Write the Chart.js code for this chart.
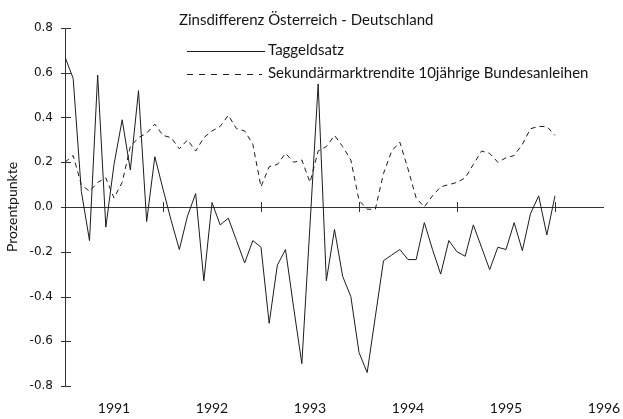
<!DOCTYPE html>
<html>
<head>
<meta charset="utf-8">
<script src="https://cdn.jsdelivr.net/npm/chart.js@4.4.1/dist/chart.umd.min.js"></script>
<style>
    html, body { margin: 0; padding: 0; background: #fff; }
    #wrap { width: 623px; height: 419px; }
</style>
</head>
<body>
<div id="wrap"><canvas id="zinsChart" width="623" height="419"></canvas></div>
<script>
/* ================= DATA ================= */
const months = [
    '1990-07', '1990-08', '1990-09', '1990-10', '1990-11', '1990-12',
    '1991-01', '1991-02', '1991-03', '1991-04', '1991-05', '1991-06',
    '1991-07', '1991-08', '1991-09', '1991-10', '1991-11', '1991-12',
    '1992-01', '1992-02', '1992-03', '1992-04', '1992-05', '1992-06',
    '1992-07', '1992-08', '1992-09', '1992-10', '1992-11', '1992-12',
    '1993-01', '1993-02', '1993-03', '1993-04', '1993-05', '1993-06',
    '1993-07', '1993-08', '1993-09', '1993-10', '1993-11', '1993-12',
    '1994-01', '1994-02', '1994-03', '1994-04', '1994-05', '1994-06',
    '1994-07', '1994-08', '1994-09', '1994-10', '1994-11', '1994-12',
    '1995-01', '1995-02', '1995-03', '1995-04', '1995-05', '1995-06',
    '1995-07'
];

const taggeldsatz = [
    0.67, 0.575, 0.07, -0.15, 0.59, -0.09, 0.19, 0.39, 0.165, 0.52,
    -0.065, 0.225, 0.08, -0.06, -0.19, -0.04, 0.06, -0.33, 0.02, -0.08,
    -0.05, -0.15, -0.25, -0.15, -0.18, -0.52, -0.26, -0.19, -0.45, -0.70,
    -0.08, 0.55, -0.33, -0.10, -0.31, -0.40, -0.65, -0.74, -0.49, -0.24,
    -0.215, -0.19, -0.235, -0.235, -0.07, -0.19, -0.30, -0.15, -0.20, -0.22,
    -0.08, -0.18, -0.28, -0.18, -0.19, -0.07, -0.195, -0.03, 0.05, -0.125,
    0.05
];

const sekundaerRendite = [
    0.20, 0.23, 0.10, 0.07, 0.11, 0.13, 0.04, 0.11, 0.27, 0.31,
    0.33, 0.37, 0.32, 0.31, 0.26, 0.30, 0.25, 0.31, 0.34, 0.36,
    0.41, 0.35, 0.34, 0.28, 0.09, 0.18, 0.19, 0.24, 0.20, 0.21,
    0.11, 0.25, 0.27, 0.32, 0.27, 0.21, 0.03, -0.01, -0.01, 0.15,
    0.25, 0.29, 0.17, 0.04, 0.00, 0.05, 0.09, 0.10, 0.11, 0.13,
    0.19, 0.25, 0.24, 0.20, 0.22, 0.23, 0.28, 0.35, 0.36, 0.36,
    0.32
];

const seriesNames = ['Taggeldsatz', 'Sekundärmarktrendite 10jährige Bundesanleihen'];
const chartTitle = 'Zinsdifferenz Österreich - Deutschland';
const yearLabels = [1991, 1992, 1993, 1994, 1995, 1996];
const midYearTicks = [1991.5, 1992.5, 1993.5, 1994.5, 1995.5];
const yTicks = [0.8, 0.6, 0.4, 0.2, 0.0, -0.2, -0.4, -0.6, -0.8];

// month string -> decimal year
function toYear(m) {
    const [y, mo] = m.split('-').map(Number);
    return y + (mo - 1) / 12;
}

const lineColor = '#1c1c1c';
const textColor = '#141414';

/* ================= PLUGINS ================= */
// small cross ticks on the y axis and mid-year marks on the zero line
const axisMarks = {
    id: 'axisMarks',
    afterDatasetsDraw(chart) {
        const ctx = chart.ctx;
        const xs = chart.scales.x;
        const ys = chart.scales.y;
        const left = chart.chartArea.left;
        ctx.save();
        ctx.strokeStyle = '#333';
        ctx.lineWidth = 1;
        yTicks.forEach(v => {
            const y = Math.round(ys.getPixelForValue(v)) + 0.5;
            ctx.beginPath();
            ctx.moveTo(left - 4, y);
            ctx.lineTo(left + 6, y);
            ctx.stroke();
        });
        const y0 = ys.getPixelForValue(0);
        midYearTicks.forEach(v => {
            const x = Math.round(xs.getPixelForValue(v)) + 0.5;
            ctx.beginPath();
            ctx.moveTo(x, y0 - 5);
            ctx.lineTo(x, y0 + 5);
            ctx.stroke();
        });
        ctx.restore();
    }
};

// title and legend sit inside the plot, top middle
const innerLegend = {
    id: 'innerLegend',
    afterDraw(chart) {
        const ctx = chart.ctx;
        const ds = chart.data.datasets;
        ctx.save();
        ctx.font = '15px Lato';
        ctx.fillStyle = textColor;
        ctx.textBaseline = 'middle';
        ctx.fillText(chartTitle, 179, 20);

        ctx.strokeStyle = ds[0].borderColor;
        ctx.lineWidth = 1;
        ctx.beginPath();
        ctx.moveTo(187, 51.5);
        ctx.lineTo(265, 51.5);
        ctx.stroke();
        ctx.fillText(ds[0].label, 268, 50);

        ctx.setLineDash([6, 6]);
        ctx.beginPath();
        ctx.moveTo(187, 74.5);
        ctx.lineTo(262, 74.5);
        ctx.stroke();
        ctx.setLineDash([]);
        ctx.fillText(ds[1].label, 268, 73);
        ctx.restore();
    }
};

/* ================= CHART ================= */
new Chart(document.getElementById('zinsChart'), {
    type: 'line',
    data: {
        datasets: [{
            label: seriesNames[0],
            data: months.map((m, i) => ({ x: toYear(m), y: taggeldsatz[i] })),
            borderColor: lineColor,
            borderWidth: 1,
            pointRadius: 0,
            tension: 0
        }, {
            label: seriesNames[1],
            data: months.map((m, i) => ({ x: toYear(m), y: sekundaerRendite[i] })),
            borderColor: lineColor,
            borderWidth: 1,
            borderDash: [5, 4],
            pointRadius: 0,
            tension: 0
        }]
    },
    options: {
        responsive: false,
        devicePixelRatio: 1,
        animation: false,
        layout: { padding: { top: 28, right: 19, bottom: 0, left: 0 } },
        plugins: {
            legend: { display: false },
            tooltip: { enabled: false }
        },
        scales: {
            x: {
                type: 'linear',
                min: 1990.5,
                max: 1996,
                afterBuildTicks: scale => {
                    scale.ticks = yearLabels.map(v => ({ value: v }));
                },
                afterFit: scale => {
                    scale.height = 33;
                    // keep the plot edge fixed, labels may overhang
                    scale.paddingLeft = 0;
                    scale.paddingRight = 0;
                },
                grid: { display: false, drawTicks: false },
                border: { display: false },
                ticks: {
                    autoSkip: false,
                    maxRotation: 0,
                    padding: 14,
                    color: textColor,
                    font: { family: 'Lato', size: 14 },
                    callback: v => String(v)
                }
            },
            y: {
                min: -0.8,
                max: 0.8,
                afterBuildTicks: scale => {
                    scale.ticks = yTicks.map(v => ({ value: v }));
                },
                afterFit: scale => { scale.width = 65; },
                grid: {
                    drawTicks: false,
                    color: c => (c.tick && c.tick.value === 0 ? '#333' : 'rgba(0,0,0,0)'),
                    lineWidth: 1
                },
                border: { display: true, color: '#333', width: 1 },
                ticks: {
                    padding: 12,
                    color: textColor,
                    font: { family: "'DejaVu Sans', sans-serif", size: 12 },
                    callback: v => v.toFixed(1)
                },
                title: {
                    display: true,
                    text: 'Prozentpunkte',
                    color: textColor,
                    padding: { top: 4, bottom: 0 },
                    font: { family: 'Lato', size: 14 }
                }
            }
        }
    },
    plugins: [axisMarks, innerLegend]
});
</script>
</body>
</html>
